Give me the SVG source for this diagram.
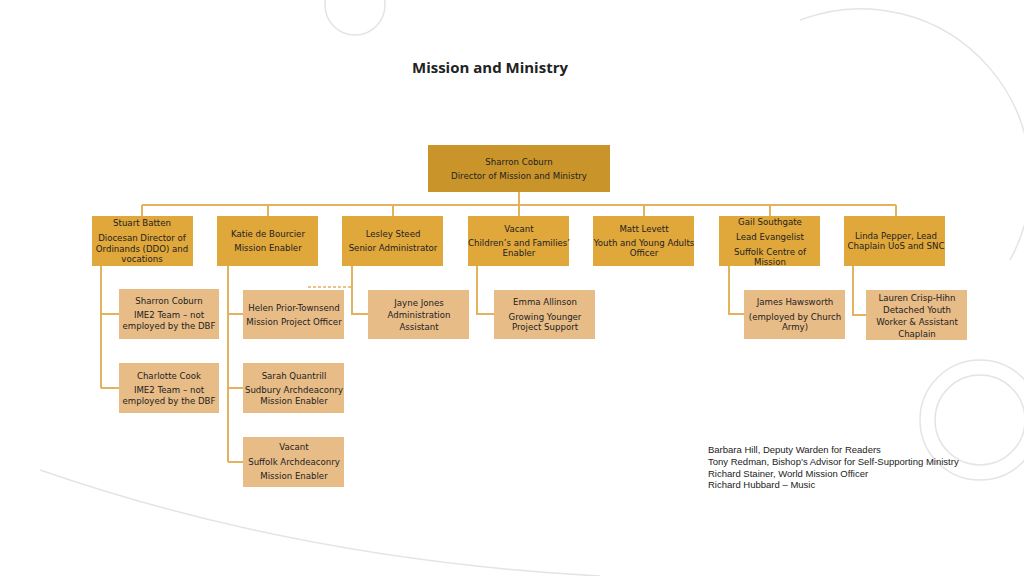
<svg xmlns="http://www.w3.org/2000/svg" width="1024" height="576" viewBox="0 0 1024 576">
<style>
.t{font-family:"DejaVu Sans",Verdana,sans-serif;font-size:8.6px;fill:#222;text-anchor:middle}
.l1{fill:#C9952B}.l2{fill:#E0A73A}.l3{fill:#E8BC87}
.c{stroke:#E2B25E;stroke-width:2;fill:none}
.bg{fill:none;stroke:#e4e4e4;stroke-width:1.5}
.n{font-family:"Liberation Sans",Arial,sans-serif;font-size:9.5px;fill:#222}
</style>
<rect width="1024" height="576" fill="#fff"/>
<g>
<circle class="bg" cx="355" cy="5" r="30"/>
<circle class="bg" cx="980" cy="420" r="60"/>
<circle class="bg" cx="980" cy="420" r="45"/>
<path class="bg" d="M800 20 A170 170 0 0 1 1010 260"/>
<path class="bg" d="M40 470 Q300 560 600 576"/>
</g>
<text x="490" y="73" font-family="Open Sans,Liberation Sans,sans-serif" font-size="15" font-weight="bold" text-anchor="middle" fill="#222">Mission and Ministry</text>
<g id="connectors">
<path class="c" d="M519 192V205M142 205H896M142 205V216M268 205V216M393 205V216M519 205V216M644 205V216M770 205V216M896 205V216"/>
<path class="c" d="M101 266V388M101 314H119M101 388H119M228 266V462M228 314H243M228 388H243M228 462H243M352 266V314H368M477 266V314H494M729 266V314H744M853 266V315H866"/>
<path d="M308 287H352" stroke="#E2B25E" stroke-width="1.5" stroke-dasharray="3,2"/>
</g>
<g id="top"><rect class="l1" x="428" y="145" width="182" height="47"/><text class="t" x="519" y="165">Sharron Coburn</text><text class="t" x="519" y="179">Director of Mission and Ministry</text></g>
<g id="stuart"><rect class="l2" x="92" y="216" width="101" height="50"/><text class="t" x="142" y="226">Stuart Batten</text><text class="t" x="142" y="241">Diocesan Director of</text><text class="t" x="142" y="252">Ordinands (DDO) and</text><text class="t" x="142" y="262">vocations</text></g>
<g id="katie"><rect class="l2" x="217" y="216" width="101" height="50"/><text class="t" x="268" y="237">Katie de Bourcier</text><text class="t" x="268" y="251">Mission Enabler</text></g>
<g id="lesley"><rect class="l2" x="342" y="216" width="101" height="50"/><text class="t" x="393" y="237">Lesley Steed</text><text class="t" x="393" y="251">Senior Administrator</text></g>
<g id="vacant1"><rect class="l2" x="468" y="216" width="101" height="50"/><text class="t" x="519" y="232">Vacant</text><text class="t" x="519" y="246">Children’s and Families’</text><text class="t" x="519" y="256">Enabler</text></g>
<g id="matt"><rect class="l2" x="593" y="216" width="101" height="50"/><text class="t" x="644" y="232">Matt Levett</text><text class="t" x="644" y="246">Youth and Young Adults</text><text class="t" x="644" y="256">Officer</text></g>
<g id="gail"><rect class="l2" x="719" y="216" width="101" height="50"/><text class="t" x="770" y="225">Gail Southgate</text><text class="t" x="770" y="240">Lead Evangelist</text><text class="t" x="770" y="255">Suffolk Centre of</text><text class="t" x="770" y="265">Mission</text></g>
<g id="linda"><rect class="l2" x="844" y="216" width="101" height="50"/><text class="t" x="896" y="239">Linda Pepper, Lead</text><text class="t" x="896" y="249">Chaplain UoS and SNC</text></g>
<g id="sharron2"><rect class="l3" x="119" y="289" width="100" height="50"/><text class="t" x="169" y="304">Sharron Coburn</text><text class="t" x="169" y="318">IME2 Team – not</text><text class="t" x="169" y="329">employed by the DBF</text></g>
<g id="helen"><rect class="l3" x="243" y="290" width="101" height="49"/><text class="t" x="294" y="311">Helen Prior-Townsend</text><text class="t" x="294" y="325">Mission Project Officer</text></g>
<g id="jayne"><rect class="l3" x="368" y="290" width="101" height="49"/><text class="t" x="419" y="306">Jayne Jones</text><text class="t" x="419" y="318">Administration</text><text class="t" x="419" y="330">Assistant</text></g>
<g id="emma"><rect class="l3" x="494" y="290" width="101" height="49"/><text class="t" x="545" y="305">Emma Allinson</text><text class="t" x="545" y="320">Growing Younger</text><text class="t" x="545" y="330">Project Support</text></g>
<g id="james"><rect class="l3" x="744" y="290" width="101" height="49"/><text class="t" x="795" y="305">James Hawsworth</text><text class="t" x="795" y="320">(employed by Church</text><text class="t" x="795" y="330">Army)</text></g>
<g id="lauren"><rect class="l3" x="866" y="290" width="101" height="50"/><text class="t" x="917" y="301">Lauren Crisp-Hihn</text><text class="t" x="917" y="313">Detached Youth</text><text class="t" x="917" y="325">Worker &amp; Assistant</text><text class="t" x="917" y="337">Chaplain</text></g>
<g id="charlotte"><rect class="l3" x="119" y="363" width="100" height="50"/><text class="t" x="169" y="379">Charlotte Cook</text><text class="t" x="169" y="393">IME2 Team – not</text><text class="t" x="169" y="404">employed by the DBF</text></g>
<g id="sarah"><rect class="l3" x="243" y="363" width="101" height="50"/><text class="t" x="294" y="379">Sarah Quantrill</text><text class="t" x="294" y="393">Sudbury Archdeaconry</text><text class="t" x="294" y="404">Mission Enabler</text></g>
<g id="vacant2"><rect class="l3" x="243" y="437" width="101" height="50"/><text class="t" x="294" y="450">Vacant</text><text class="t" x="294" y="465">Suffolk Archdeaconry</text><text class="t" x="294" y="479">Mission Enabler</text></g>
<g id="notes">
<text class="n" x="708" y="453">Barbara Hill, Deputy Warden for Readers</text>
<text class="n" x="708" y="465">Tony Redman, Bishop’s Advisor for Self-Supporting Ministry</text>
<text class="n" x="708" y="477">Richard Stainer, World Mission Officer</text>
<text class="n" x="708" y="488">Richard Hubbard – Music</text>
</g>
</svg>
